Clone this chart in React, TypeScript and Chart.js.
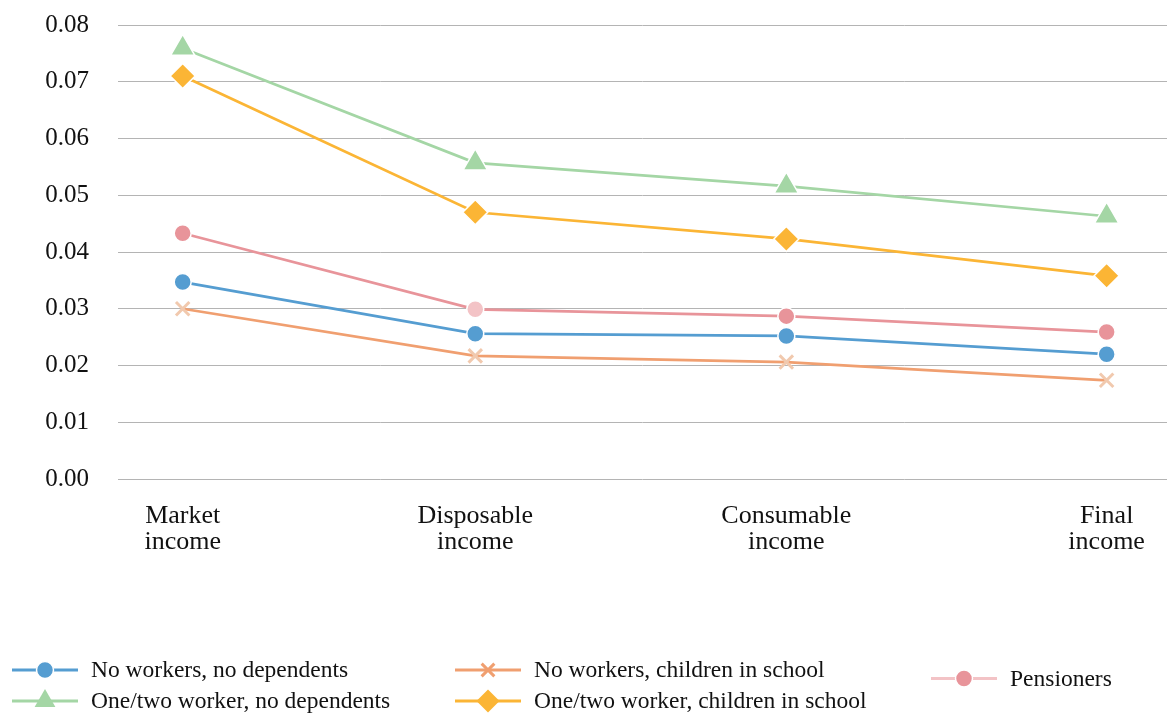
import React, { useEffect, useRef } from "react";
import { Chart, registerables } from "chart.js";

Chart.register(...registerables);

// Income stages along the horizontal axis and where each one sits on it
const stages: string[][] = [
  ["Market", "income"],
  ["Disposable", "income"],
  ["Consumable", "income"],
  ["Final", "income"],
];
const stagePos = [0, 0.95, 1.96, 3];

// Values per household type, one per stage
const noWorkersNoDeps = [0.0347, 0.0256, 0.0252, 0.022];
const oneTwoWorkerNoDeps = [0.0759, 0.0557, 0.0516, 0.0463];
const noWorkersChildren = [0.03, 0.0217, 0.0206, 0.0174];
const oneTwoWorkerChildren = [0.071, 0.047, 0.0423, 0.0358];
const pensioners = [0.0433, 0.0299, 0.0287, 0.0259];

const yTicks = [0, 0.01, 0.02, 0.03, 0.04, 0.05, 0.06, 0.07, 0.08];

const FONT = "'Liberation Serif', 'Times New Roman', serif";
const TEXT = "#111111";

const BLUE = "#559dd1";
const GREEN = "#a4d6a5";
const PEACH = "#f09f70";
const PEACH_MARK = "#f1c9ae";
const ORANGE = "#fbb535";
const PINK = "#e8949a";
const PINK_LIGHT = "#f3c3c6";

type Marker = "circle" | "triangle" | "rectRot" | "crossRot";

interface Series {
  label: string;
  values: number[];
  color: string;
  marker: Marker;
  markerColor: string | string[];
  legendLine: string;
  legendMarker: string;
}

const series: Series[] = [
  {
    label: "No workers, no dependents",
    values: noWorkersNoDeps,
    color: BLUE,
    marker: "circle",
    markerColor: BLUE,
    legendLine: BLUE,
    legendMarker: BLUE,
  },
  {
    label: "One/two worker, no dependents",
    values: oneTwoWorkerNoDeps,
    color: GREEN,
    marker: "triangle",
    markerColor: GREEN,
    legendLine: GREEN,
    legendMarker: GREEN,
  },
  {
    label: "No workers, children in school",
    values: noWorkersChildren,
    color: PEACH,
    marker: "crossRot",
    markerColor: PEACH_MARK,
    legendLine: PEACH,
    legendMarker: PEACH,
  },
  {
    label: "One/two worker, children in school",
    values: oneTwoWorkerChildren,
    color: ORANGE,
    marker: "rectRot",
    markerColor: ORANGE,
    legendLine: ORANGE,
    legendMarker: ORANGE,
  },
  {
    label: "Pensioners",
    values: pensioners,
    color: PINK,
    marker: "circle",
    markerColor: [PINK, PINK_LIGHT, PINK, PINK],
    legendLine: PINK_LIGHT,
    legendMarker: PINK,
  },
];

const markerRadius: Record<Marker, number> = {
  circle: 8.5,
  triangle: 14,
  rectRot: 12.5,
  crossRot: 9.5,
};

// Legend slots: [series index, line start x, row y]
const legendSlots: [number, number, number][] = [
  [0, 12, 670],
  [1, 12, 701],
  [2, 455, 670],
  [3, 455, 701],
  [4, 931, 678.5],
];

function drawMarker(
  ctx: CanvasRenderingContext2D,
  kind: Marker,
  x: number,
  y: number,
  r: number,
  color: string
) {
  ctx.save();
  ctx.beginPath();
  if (kind === "circle") {
    ctx.arc(x, y, r, 0, Math.PI * 2);
    ctx.fillStyle = color;
    ctx.fill();
    ctx.lineWidth = 1.5;
    ctx.strokeStyle = "#ffffff";
    ctx.stroke();
  } else if (kind === "triangle") {
    const h = Math.cos(Math.PI / 6) * r;
    ctx.moveTo(x, y - r);
    ctx.lineTo(x + h, y + r / 2);
    ctx.lineTo(x - h, y + r / 2);
    ctx.closePath();
    ctx.fillStyle = color;
    ctx.fill();
  } else if (kind === "rectRot") {
    ctx.moveTo(x, y - r);
    ctx.lineTo(x + r, y);
    ctx.lineTo(x, y + r);
    ctx.lineTo(x - r, y);
    ctx.closePath();
    ctx.fillStyle = color;
    ctx.fill();
  } else {
    const d = r * Math.SQRT1_2;
    ctx.moveTo(x - d, y - d);
    ctx.lineTo(x + d, y + d);
    ctx.moveTo(x + d, y - d);
    ctx.lineTo(x - d, y + d);
    ctx.strokeStyle = color;
    ctx.lineWidth = 3;
    ctx.stroke();
  }
  ctx.restore();
}

const legendPlugin = {
  id: "householdLegend",
  afterDraw(chart: Chart) {
    const ctx = chart.ctx;
    ctx.save();
    for (const [idx, x0, y] of legendSlots) {
      const s = series[idx];
      ctx.beginPath();
      ctx.moveTo(x0, y);
      ctx.lineTo(x0 + 66, y);
      ctx.strokeStyle = s.legendLine;
      ctx.lineWidth = 3;
      ctx.stroke();
      const legendR =
        s.marker === "triangle" ? 12 : s.marker === "rectRot" ? 11.5 : s.marker === "crossRot" ? 9 : 8.5;
      drawMarker(ctx, s.marker, x0 + 33, y, legendR, s.legendMarker);
      ctx.fillStyle = TEXT;
      ctx.font = `23.5px ${FONT}`;
      ctx.textAlign = "left";
      ctx.textBaseline = "middle";
      ctx.fillText(s.label, x0 + 79, y + 1);
    }
    ctx.restore();
  },
};

export default function App() {
  const canvasRef = useRef<HTMLCanvasElement | null>(null);

  useEffect(() => {
    const canvas = canvasRef.current;
    if (!canvas) return;

    const datasets = series.map((s) => ({
      label: s.label,
      data: stagePos.map((x, i) => ({ x, y: s.values[i] })),
      borderColor: s.color,
      backgroundColor: s.markerColor,
      borderWidth: 2.75,
      pointStyle: s.marker,
      pointRadius: markerRadius[s.marker],
      pointBackgroundColor: s.markerColor,
      pointBorderColor: s.marker === "crossRot" ? s.markerColor : "#ffffff",
      pointBorderWidth: s.marker === "crossRot" ? 3 : 1.5,
      tension: 0,
      fill: false,
      clip: false as any,
    }));

    const chart = new Chart(canvas, {
      type: "line",
      data: { datasets },
      options: {
        responsive: false,
        animation: false,
        layout: { autoPadding: false, padding: { top: 25, left: 0, right: 0, bottom: 0 } },
        plugins: {
          legend: { display: false },
          tooltip: { enabled: false },
        },
        scales: {
          x: {
            type: "linear",
            min: -0.21,
            max: 3.196,
            grid: { display: false },
            border: { display: false },
            afterBuildTicks: (axis: any) => {
              axis.ticks = stagePos.map((v) => ({ value: v }));
            },
            afterFit: (axis: any) => {
              axis.height = 235;
              axis.paddingLeft = 0;
              axis.paddingRight = 0;
            },
            ticks: {
              autoSkip: false,
              maxRotation: 0,
              padding: 16,
              color: TEXT,
              font: { family: FONT, size: 26, lineHeight: 1.0 },
              callback: (_v: any, i: number) => stages[i],
            },
          },
          y: {
            type: "linear",
            min: 0,
            max: 0.08,
            afterBuildTicks: (axis: any) => {
              axis.ticks = yTicks.map((v) => ({ value: v }));
            },
            afterFit: (axis: any) => {
              axis.width = 118;
              axis.paddingTop = 0;
              axis.paddingBottom = 0;
            },
            grid: { color: "#b4b4b4", lineWidth: 1, drawTicks: false },
            border: { display: false },
            ticks: {
              padding: 29,
              color: TEXT,
              font: { family: FONT, size: 25 },
              callback: (v: any) => Number(v).toFixed(2),
            },
          },
        },
      },
      plugins: [legendPlugin],
    });

    return () => chart.destroy();
  }, []);

  return (
    <div
      style={{
        position: "absolute",
        left: 0,
        top: 0,
        width: 1167,
        height: 714,
        overflow: "hidden",
        background: "#ffffff",
      }}
    >
      <canvas
        ref={canvasRef}
        width={1167}
        height={714}
        style={{ display: "block", width: 1167, height: 714 }}
      />
    </div>
  );
}
